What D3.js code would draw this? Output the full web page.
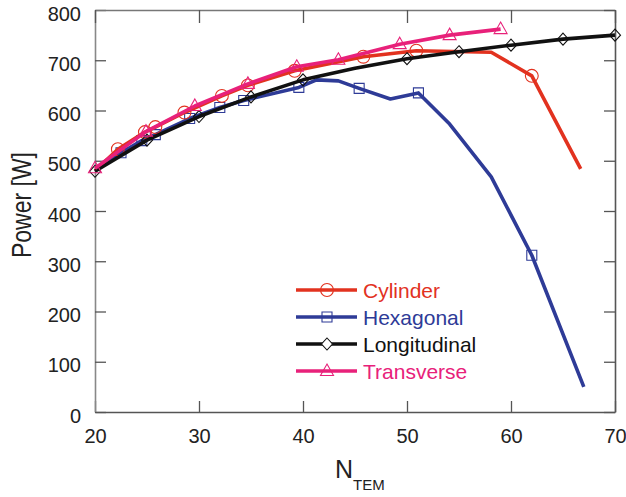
<!DOCTYPE html>
<html>
<head>
<meta charset="utf-8">
<script src="https://cdn.jsdelivr.net/npm/d3@7"></script>
<style>
  body { margin: 0; background: #fff; }
  text { font-family: "Liberation Sans", Arial, sans-serif; }
</style>
</head>
<body>
<svg class="pw"></svg>
<script>
// series data
var cylX = [20, 22.2, 24.8, 25.8, 28.6, 32.2, 34.7, 39.2, 45.8, 50.9, 58.1, 62, 66.7];
var cylY = [480, 523, 557, 567, 596, 629, 650, 679, 707, 719, 716, 669, 484];
var cylMk = [1, 2, 3, 4, 5, 6, 7, 8, 9, 11];

var hexX = [20, 22.5, 24.5, 25.8, 29.1, 32, 34.3, 39.6, 41.3, 43.4, 45.4, 48.4, 51.1, 54.1, 58.1, 62, 67];
var hexY = [480, 516, 540, 552, 584, 606, 620, 646, 661, 659, 644, 623, 635, 573, 468, 312, 50];
var hexMk = [1, 2, 3, 4, 5, 6, 7, 10, 12, 15];

var lonX = [20, 25, 30, 35, 40, 45, 50, 55, 60, 65, 70];
var lonY = [479, 541, 588, 627, 661, 684, 703, 717, 730, 742, 750];
var lonMk = [0, 1, 2, 3, 4, 6, 7, 8, 9, 10];

var traX = [20, 24.9, 29.6, 34.7, 39.4, 43.4, 49.3, 54.1, 59];
var traY = [485, 558, 609, 653, 687, 701, 732, 750, 762];
var traMk = [0, 1, 2, 3, 4, 5, 6, 7, 8];

var names = ["Cylinder", "Hexagonal", "Longitudinal", "Transverse"];
var colors = ["#e2321f", "#2e3b97", "#111111", "#e8217a"];
var shapes = ["circle", "square", "diamond", "triangle"];
var xTicks = [20, 30, 40, 50, 60, 70];
var yTicks = [0, 100, 200, 300, 400, 500, 600, 700, 800];

var W = 626, H = 497;
var margin = {top: 10, right: 11, bottom: 85, left: 95},
    width = W - margin.left - margin.right,
    height = H - margin.top - margin.bottom;

var svg = d3.select(".pw").attr("width", W).attr("height", H);
var g = svg.append("g").attr("transform", "translate(" + margin.left + "," + margin.top + ")");

var x = d3.scaleLinear().domain([20, 70]).range([0, width]);
var y = d3.scaleLinear().domain([0, 800]).range([height, 0]);

var frameCol = "#555";

// axes, ticks pointing inward on all sides
g.append("g")
    .attr("transform", "translate(0," + height + ")")
    .call(d3.axisBottom(x).tickValues(xTicks).tickSizeInner(-11).tickSizeOuter(0).tickPadding(17))
    .call(function(a) {
      a.select(".domain").attr("stroke", frameCol).attr("stroke-width", 1.6);
      a.selectAll(".tick line").attr("stroke", frameCol).attr("stroke-width", 1.3);
      a.selectAll("text").attr("font-size", 20).attr("fill", "#222")
        .attr("font-family", "'Liberation Sans', Arial, sans-serif");
    });
g.append("g")
    .call(d3.axisLeft(y).tickValues(yTicks).tickSizeInner(-11).tickSizeOuter(0).tickPadding(14))
    .call(function(a) {
      a.select(".domain").attr("stroke", "#888").attr("stroke-width", 1.6);
      a.selectAll(".tick line").attr("stroke", frameCol).attr("stroke-width", 1.3);
      a.selectAll("text").attr("font-size", 20).attr("fill", "#222").attr("dy", "0.5em")
        .attr("font-family", "'Liberation Sans', Arial, sans-serif");
    });
g.append("g")
    .call(d3.axisTop(x).tickValues(xTicks).tickSizeInner(-13).tickSizeOuter(0).tickFormat(""))
    .call(function(a) {
      a.select(".domain").attr("stroke", "#777").attr("stroke-width", 1.6);
      a.selectAll(".tick line").attr("stroke", frameCol).attr("stroke-width", 1.3);
    });
g.append("g")
    .attr("transform", "translate(" + width + ",0)")
    .call(d3.axisRight(y).tickValues(yTicks).tickSizeInner(-11).tickSizeOuter(0).tickFormat(""))
    .call(function(a) {
      a.select(".domain").attr("stroke", frameCol).attr("stroke-width", 1.6);
      a.selectAll(".tick line").attr("stroke", frameCol).attr("stroke-width", 1.3);
    });

// axis titles
svg.append("text")
    .attr("transform", "translate(31,205) rotate(-90)")
    .attr("text-anchor", "middle")
    .attr("font-size", 28)
    .attr("textLength", 106)
    .attr("lengthAdjust", "spacingAndGlyphs")
    .attr("fill", "#222")
    .text("Power [W]");

var xt = svg.append("text").attr("x", 335).attr("y", 478).attr("fill", "#222");
xt.append("tspan").attr("font-size", 25).text("N");
xt.append("tspan").attr("font-size", 15).attr("dy", 12).text("TEM");

// marker paths
function markerPath(shape) {
  if (shape == "circle") return d3.symbol(d3.symbolCircle, 130)();
  if (shape == "square") return "M-5,-5H5V5H-5Z";
  if (shape == "diamond") return "M0,-6L5.5,0L0,6L-5.5,0Z";
  return "M0,-7L6.5,4.5H-6.5Z";
}

var series = [
  {xs: cylX, ys: cylY, mk: cylMk},
  {xs: hexX, ys: hexY, mk: hexMk},
  {xs: lonX, ys: lonY, mk: lonMk},
  {xs: traX, ys: traY, mk: traMk}
];

var line = d3.line()
    .x(function(d) { return x(d[0]); })
    .y(function(d) { return y(d[1]); });

var order = [1, 0, 2, 3];
order.forEach(function(i) {
  var s = series[i];
  var pts = s.xs.map(function(v, k) { return [v, s.ys[k]]; });
  g.append("path")
      .datum(pts)
      .attr("fill", "none")
      .attr("stroke", colors[i])
      .attr("stroke-width", 3.6)
      .attr("stroke-linejoin", "round")
      .attr("d", line);
  g.selectAll(".mk" + i)
      .data(s.mk.map(function(k) { return pts[k]; }))
    .enter().append("path")
      .attr("class", "mk" + i)
      .attr("transform", function(d) { return "translate(" + x(d[0]) + "," + y(d[1]) + ")"; })
      .attr("d", markerPath(shapes[i]))
      .attr("fill", "none")
      .attr("stroke", colors[i])
      .attr("stroke-width", 1.1);
});

// legend
var lg = svg.append("g");
names.forEach(function(n, i) {
  var ly = 290 + i * 27;
  lg.append("line")
      .attr("x1", 296).attr("x2", 357).attr("y1", ly).attr("y2", ly)
      .attr("stroke", colors[i]).attr("stroke-width", 3.6);
  lg.append("path")
      .attr("transform", "translate(327," + ly + ")")
      .attr("d", markerPath(shapes[i]))
      .attr("fill", i == 2 ? "#fff" : "none")
      .attr("stroke", colors[i]).attr("stroke-width", 1.1);
  lg.append("text")
      .attr("x", 363).attr("y", ly + 8)
      .attr("font-size", 21)
      .attr("fill", colors[i])
      .text(n);
});
</script>
</body>
</html>
